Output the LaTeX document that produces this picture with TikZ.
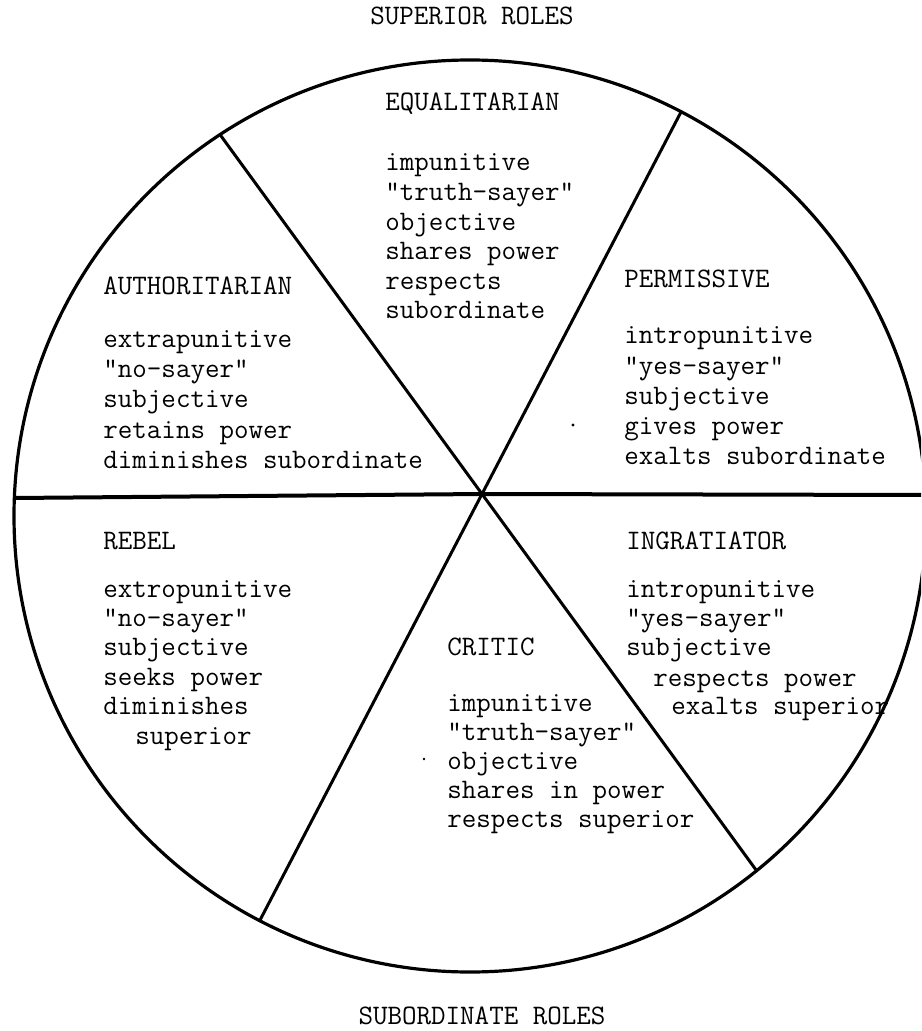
\documentclass[tikz,border=0pt]{standalone}
\begin{document}
\begin{tikzpicture}[x=0.5pt,y=-0.5pt,
  txt/.style={anchor=base west,inner sep=0pt,font=\ttfamily\fontsize{14.1}{14.8}\selectfont},
  ttl/.style={anchor=base,inner sep=0pt,font=\ttfamily\fontsize{14.1}{14.8}\selectfont},
  rim/.style={line width=1.6pt},
  spoke/.style={line width=1.5pt},
  axis/.style={line width=2pt}]
\useasboundingbox (0,0) rectangle (921,1031);
\clip (0,0) rectangle (921,1031);
\coordinate (O) at (470,516);
\coordinate (C) at (482,494);
\coordinate (TL) at (220.1,134.7);
\coordinate (BR) at (756.5,870.6);
\coordinate (TR) at (681.1,111.8);
\coordinate (BL) at (259.7,920.7);
\coordinate (L) at (14.4,498);
\coordinate (R) at (925.5,495);
\draw[rim] (O) circle[radius=456];
\draw[spoke] (TL) -- (C) -- (BR);
\draw[spoke] (TR) -- (C) -- (BL);
\draw[axis] (L) -- (C) -- (R);
% titles
\node[ttl] (sup) at (472,25) {SUPERIOR ROLES};
\node[ttl] (sub) at (482,1024) {SUBORDINATE ROLES};
% equalitarian
\node[txt] (eqh) at (385,111) {EQUALITARIAN};
\foreach \t [count=\i from 0] in {impunitive,"truth-sayer",objective,shares power,respects,subordinate}
  \node[txt] (eq\i) at (385,171+29.6*\i) {\t};
% authoritarian
\node[txt] (auh) at (103,295) {AUTHORITARIAN};
\foreach \t [count=\i from 0] in {extrapunitive,"no-sayer",subjective,retains power,diminishes subordinate}
  \node[txt] (au\i) at (103,348+30*\i) {\t};
% permissive
\node[txt] (peh) at (624,288) {PERMISSIVE};
\foreach \t [count=\i from 0] in {intropunitive,"yes-sayer",subjective,gives power,exalts subordinate}
  \node[txt] (pe\i) at (624,344+30*\i) {\t};
% rebel
\node[txt] (reh) at (103,549) {REBEL};
\foreach \t [count=\i from 0] in {extropunitive,"no-sayer",subjective,seeks power,diminishes}
  \node[txt] (re\i) at (103,597+29.4*\i) {\t};
\node[txt] (re5) at (135,744) {superior};
% ingratiator
\node[txt] (inh) at (626,549) {INGRATIATOR};
\foreach \t [count=\i from 0] in {intropunitive,"yes-sayer",subjective}
  \node[txt] (in\i) at (626,597+29.4*\i) {\t};
\node[txt] (in3) at (653,686) {respects power};
\node[txt] (in4) at (671,714) {exalts superior};
% critic
\node[txt] (crh) at (447,655) {CRITIC};
\foreach \t [count=\i from 0] in {impunitive,"truth-sayer",objective,shares in power,respects superior}
  \node[txt] (cr\i) at (447,711+29*\i) {\t};
% specks
\fill (573,425) circle[radius=1.6];
\fill (424,759) circle[radius=1.3];
\end{tikzpicture}
\end{document}
